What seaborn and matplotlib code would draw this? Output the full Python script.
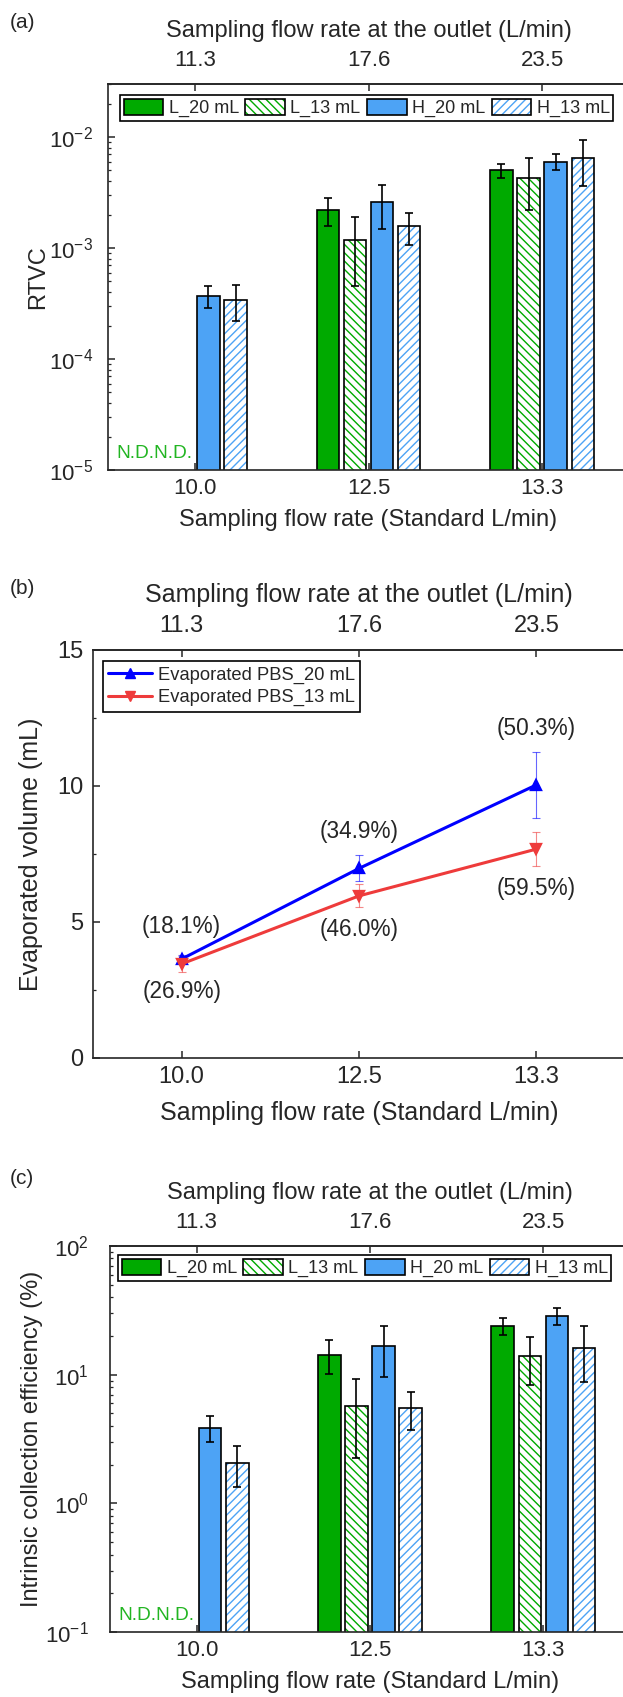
import numpy as np
import pandas as pd
import matplotlib.pyplot as plt
import seaborn as sns
from matplotlib.patches import Patch, Rectangle
from matplotlib.lines import Line2D
from matplotlib.ticker import MultipleLocator

sns.set_style("ticks")
plt.rcParams.update({
    'font.family': ['Liberation Sans', 'DejaVu Sans'],
    'axes.unicode_minus': False,
    'hatch.linewidth': 1.0,
    'axes.linewidth': 1.2,
    'xtick.direction': 'in',
    'ytick.direction': 'in',
})

# ---- datos ----
flow_std = ['10.0', '12.5', '13.3']
flow_out = ['11.3', '17.6', '23.5']
groups = ['L_20 mL', 'L_13 mL', 'H_20 mL', 'H_13 mL']

rtvc_L20 = [np.nan, 2.2e-3, 5.03e-3]
rtvc_L20_sd = [np.nan, 0.62e-3, 0.72e-3]
rtvc_L13 = [np.nan, 1.17e-3, 4.3e-3]
rtvc_L13_sd = [np.nan, 0.72e-3, 2.1e-3]
rtvc_H20 = [3.7e-4, 2.58e-3, 6.0e-3]
rtvc_H20_sd = [0.8e-4, 1.1e-3, 0.97e-3]
rtvc_H13 = [3.42e-4, 1.57e-3, 6.5e-3]
rtvc_H13_sd = [1.2e-4, 0.5e-3, 2.9e-3]

eff_L20 = [np.nan, 14.3, 24.0]
eff_L20_sd = [np.nan, 4.2, 3.5]
eff_L13 = [np.nan, 5.75, 13.9]
eff_L13_sd = [np.nan, 3.5, 5.6]
eff_H20 = [3.88, 16.8, 28.6]
eff_H20_sd = [0.87, 7.2, 4.3]
eff_H13 = [2.07, 5.52, 16.2]
eff_H13_sd = [0.72, 1.8, 7.5]

evap_series = ['Evaporated PBS_20 mL', 'Evaporated PBS_13 mL']
evap_20 = [3.64, 6.97, 10.04]
evap_20_sd = [0.15, 0.48, 1.22]
evap_13 = [3.46, 5.96, 7.68]
evap_13_sd = [0.28, 0.42, 0.62]
evap_pct_20 = ['(18.1%)', '(34.9%)', '(50.3%)']
evap_pct_13 = ['(26.9%)', '(46.0%)', '(59.5%)']

GREEN = '#00AA00'
BLUE = '#4DA3F5'
ND_GREEN = '#22B522'
LINE_BLUE = '#0000FF'
LINE_RED = '#EE3B3B'
HATCHES = {'L_13 mL': '\\\\\\\\', 'H_13 mL': '////'}
COLORS = {'L_20 mL': GREEN, 'L_13 mL': GREEN, 'H_20 mL': BLUE, 'H_13 mL': BLUE}

TOP_LABEL = 'Sampling flow rate at the outlet (L/min)'
BOTTOM_LABEL = 'Sampling flow rate (Standard L/min)'

W, H = 623, 1697
fig = plt.figure(figsize=(W / 100, H / 100), dpi=100)


def add_ax(left, top, right, bottom):
    return fig.add_axes([left / W, 1 - bottom / H, (right - left) / W, (bottom - top) / H])


def frame(ax, tick_fs, label_fs, ypad, top_pad, bottom_pad):
    ax.spines['right'].set_visible(False)
    ax.tick_params(axis='both', which='major', length=5, width=1.1, labelsize=tick_fs)
    ax.tick_params(axis='y', which='major', pad=ypad)
    ax.tick_params(axis='y', which='minor', length=2.5, width=0.9)
    ax.tick_params(axis='x', pad=6)
    ax.set_xlabel(BOTTOM_LABEL, fontsize=label_fs, labelpad=bottom_pad)
    secax = ax.secondary_xaxis('top')
    secax.set_xticks(ax.get_xticks(), labels=flow_out)
    secax.tick_params(axis='x', direction='in', length=5, width=1.1, labelsize=tick_fs, pad=9)
    secax.set_xlabel(TOP_LABEL, fontsize=label_fs, labelpad=top_pad)
    secax.spines['top'].set_linewidth(1.2)


def bar_panel(ax, series, sds, ylim, ylabel, ylab_x, ypad, leg_anchor):
    rows = []
    for g, vals, sd in zip(groups, series, sds):
        for f, v, s in zip(flow_std, vals, sd):
            if not np.isnan(v):
                rows.append({'flow': f, 'group': g, 'value': v, 'sd': s})
    df = pd.DataFrame(rows)
    sns.barplot(data=df, x='flow', y='value', hue='group', order=flow_std,
                hue_order=groups, palette=COLORS, width=0.625, gap=0.17,
                errorbar=None, edgecolor='black', linewidth=1.2, saturation=1,
                legend=False, ax=ax)
    ax.set_yscale('log')
    ax.set_ylim(*ylim)
    ax.set_xlim(-0.5, 2.5)
    for p in list(ax.patches):
        h = p.get_height()
        if not np.isfinite(h) or h <= 0:
            continue
        row = df.loc[np.isclose(df['value'], h)].iloc[0]
        xc = p.get_x() + p.get_width() / 2
        if row['group'] in HATCHES:
            p.set_facecolor('white')
            p.set_edgecolor(COLORS[row['group']])
            p.set_hatch(HATCHES[row['group']])
            p.set_linewidth(0)
            ax.add_patch(Rectangle((p.get_x(), p.get_y()), p.get_width(), h,
                                   fill=False, edgecolor='black', linewidth=1.2, zorder=p.get_zorder() + 0.1))
        ax.errorbar(xc, h, yerr=row['sd'], fmt='none', ecolor='black',
                    elinewidth=1.2, capsize=3.2, capthick=1.2, zorder=5)
    ax.text(-0.012, 0.031, 'N.D.N.D.', color=ND_GREEN, fontsize=13.8,
            ha='right', va='baseline', transform=ax.get_xaxis_transform())
    handles = []
    for g in groups:
        if g in HATCHES:
            handles.append((Patch(facecolor='white', edgecolor=COLORS[g], hatch=HATCHES[g], linewidth=0),
                            Patch(fill=False, edgecolor='black', linewidth=1.2)))
        else:
            handles.append(Patch(facecolor=COLORS[g], edgecolor='black', linewidth=1.2))
    leg = ax.legend(handles, groups, ncol=4, loc='upper left', bbox_to_anchor=leg_anchor,
                    borderaxespad=0, fontsize=13, handlelength=2.2, handleheight=1.0,
                    handletextpad=0.3, columnspacing=0.35, borderpad=0.2,
                    fancybox=False, edgecolor='black', framealpha=1)
    leg.get_frame().set_linewidth(1.2)
    ax.set_ylabel(ylabel, fontsize=17)
    ax.yaxis.set_label_coords(ylab_x, 0.5)
    frame(ax, 16, 17, ypad, 10, 7)


# ---- (a) RTVC ----
ax_a = add_ax(108, 84, 629, 470)
bar_panel(ax_a, [rtvc_L20, rtvc_L13, rtvc_H20, rtvc_H13],
          [rtvc_L20_sd, rtvc_L13_sd, rtvc_H20_sd, rtvc_H13_sd],
          (1e-5, 3.0e-2), 'RTVC', -0.113, 11, (0.023, 0.9715))

# ---- (b) volumen evaporado ----
ax_b = add_ax(93, 650, 625, 1058)
df_b = pd.DataFrame({
    'flow': flow_std * 2,
    'series': [evap_series[0]] * 3 + [evap_series[1]] * 3,
    'vol': evap_20 + evap_13,
})
sns.pointplot(data=df_b, x='flow', y='vol', hue='series', order=flow_std,
              hue_order=evap_series, palette=[LINE_BLUE, LINE_RED],
              markers=['^', 'v'], linestyles=['-', '-'], errorbar=None,
              markersize=7, linewidth=2.2, legend=False, ax=ax_b)
for line, vals, sd, c in zip(ax_b.lines[:2], [evap_20, evap_13], [evap_20_sd, evap_13_sd],
                             [LINE_BLUE, LINE_RED]):
    ax_b.errorbar(line.get_xdata(), vals, yerr=sd, fmt='none', ecolor=c,
                  elinewidth=0.8, capsize=3, capthick=0.8, alpha=0.6, zorder=1)
for x, v, s in zip(range(3), [4.82, 8.31, 12.1], evap_pct_20):
    ax_b.text(x, v, s, ha='center', va='center', fontsize=16.3)
for x, v, s in zip(range(3), [2.46, 4.74, 6.25], evap_pct_13):
    ax_b.text(x, v, s, ha='center', va='center', fontsize=16.3)
ax_b.set_xlim(-0.5, 2.5)
ax_b.set_ylim(0, 15)
ax_b.yaxis.set_major_locator(MultipleLocator(5))
ax_b.yaxis.set_minor_locator(MultipleLocator(2.5))
leg_b = ax_b.legend([Line2D([], [], color=LINE_BLUE, marker='^', lw=2.2, ms=7),
                     Line2D([], [], color=LINE_RED, marker='v', lw=2.2, ms=7)],
                    evap_series, loc='upper left', bbox_to_anchor=(0.018, 0.973),
                    borderaxespad=0, fontsize=13.2, handlelength=2.4,
                    handletextpad=0.3, borderpad=0.3, labelspacing=0.3,
                    fancybox=False, edgecolor='black', framealpha=1)
leg_b.get_frame().set_linewidth(1.2)
ax_b.set_ylabel('Evaporated volume (mL)', fontsize=18)
ax_b.yaxis.set_label_coords(-0.094, 0.5)
frame(ax_b, 17, 18, 7, 10, 9)

# ---- (c) eficiencia ----
ax_c = add_ax(110, 1246, 630, 1632)
bar_panel(ax_c, [eff_L20, eff_L13, eff_H20, eff_H13],
          [eff_L20_sd, eff_L13_sd, eff_H20_sd, eff_H13_sd],
          (0.1, 100), 'Intrinsic collection efficiency (%)', -0.129, 15, (0.0154, 0.9767))

for lab, y in zip(['(a)', '(b)', '(c)'], [23, 589, 1179]):
    fig.text(10 / W, 1 - y / H, lab, fontsize=15, ha='left', va='center')

fig.savefig('out.png', dpi=100)
